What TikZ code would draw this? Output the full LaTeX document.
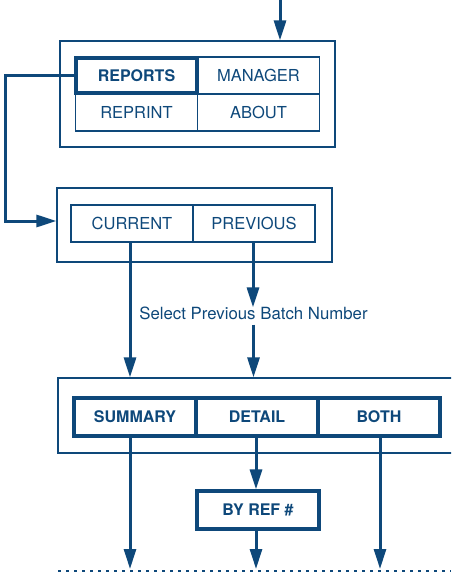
\documentclass[tikz,border=0pt]{standalone}
\usepackage{fontspec}
\setmainfont{TeX Gyre Heros}
\usetikzlibrary{arrows.meta,calc}
\definecolor{navy}{RGB}{14,72,122}
\begin{document}
\begin{tikzpicture}[x=1pt,y=1pt,
  outerbox/.style={draw=navy,line width=1.3pt},
  cell/.style={draw=navy,line width=1.8pt,text=navy,minimum width=122pt,minimum height=37pt,inner sep=0pt,font=\fontsize{16.5}{19}\selectfont},
  boldcell/.style={cell,line width=3.2pt,font=\fontsize{16}{19}\selectfont\bfseries},
  flow/.style={draw=navy,line width=3pt,-{Triangle[length=20pt,width=12pt]}},
  lbl/.style={text=navy,inner sep=0pt,font=\fontsize{16.8}{19}\selectfont}]
\useasboundingbox (0,0) rectangle (451,-572);
\clip (0,0) rectangle (451,-572);
% box 1
\node[outerbox,minimum width=275pt,minimum height=106pt,inner sep=0pt] (box1) at (197.5,-94) {};
\node[cell] (manager) at (258.5,-75.5) {MANAGER};
\node[cell] (reprint) at (136.5,-112.5) {REPRINT};
\node[cell] (about) at (258.5,-112.5) {ABOUT};
\node[boldcell,minimum width=121pt,minimum height=35pt] (reports) at (136.5,-75.5) {REPORTS};
% box 2
\node[outerbox,minimum width=275pt,minimum height=74pt,inner sep=0pt] (box2) at (194.5,-225) {};
\node[cell] (current) at (132,-223.5) {CURRENT};
\node[cell] (previous) at (254,-223.5) {PREVIOUS};
% box 3
\node[outerbox,minimum width=420pt,minimum height=75pt,inner sep=0pt] (box3) at (268,-415.5) {};
\node[boldcell,minimum height=38pt] (summary) at (135,-417) {SUMMARY};
\node[boldcell,minimum height=38pt] (detail) at (257,-417) {DETAIL};
\node[boldcell,minimum height=38pt] (both) at (379,-417) {BOTH};
\node[boldcell,minimum height=38pt] (byref) at (258,-510) {BY REF \#};
% label
\node[lbl] (batch) at (253.5,-313) {Select Previous Batch Number};
% coordinates
\coordinate (top) at (280,0);
\coordinate (left) at (5,0);
\coordinate (e1) at (130,-569);
\coordinate (e2) at (256,-569);
\coordinate (e3) at (380,-569);
\coordinate (dl) at (58,-571);
\coordinate (dr) at (451,-571);
% connectors
\draw[flow] (top) -- (top |- box1.north);
\draw[flow] (reports.west) -- (reports.west -| left) |- ($(box2.west)+(0,4)$);
\draw[flow] ([xshift=-2pt]current.south) -- ([xshift=-2pt]current.south |- box3.north);
\draw[flow] ([xshift=-1pt]previous.south) -- ([xshift=-1pt,yshift=-1pt]previous.south |- batch.north);
\draw[flow] ([yshift=-5pt]batch.south) -- (batch.south |- box3.north);
\draw[flow] ([xshift=-5pt]summary.south) -- (e1);
\draw[flow] ([xshift=-1pt]detail.south) -- ([xshift=-1pt]detail.south |- byref.north);
\draw[flow] ([xshift=-2pt]byref.south) -- (e2);
\draw[flow] ([xshift=1pt]both.south) -- (e3);
\draw[navy,line width=1.5pt,dash pattern=on 2.5pt off 5.5pt] (dl) -- (dr);
\end{tikzpicture}
\end{document}
